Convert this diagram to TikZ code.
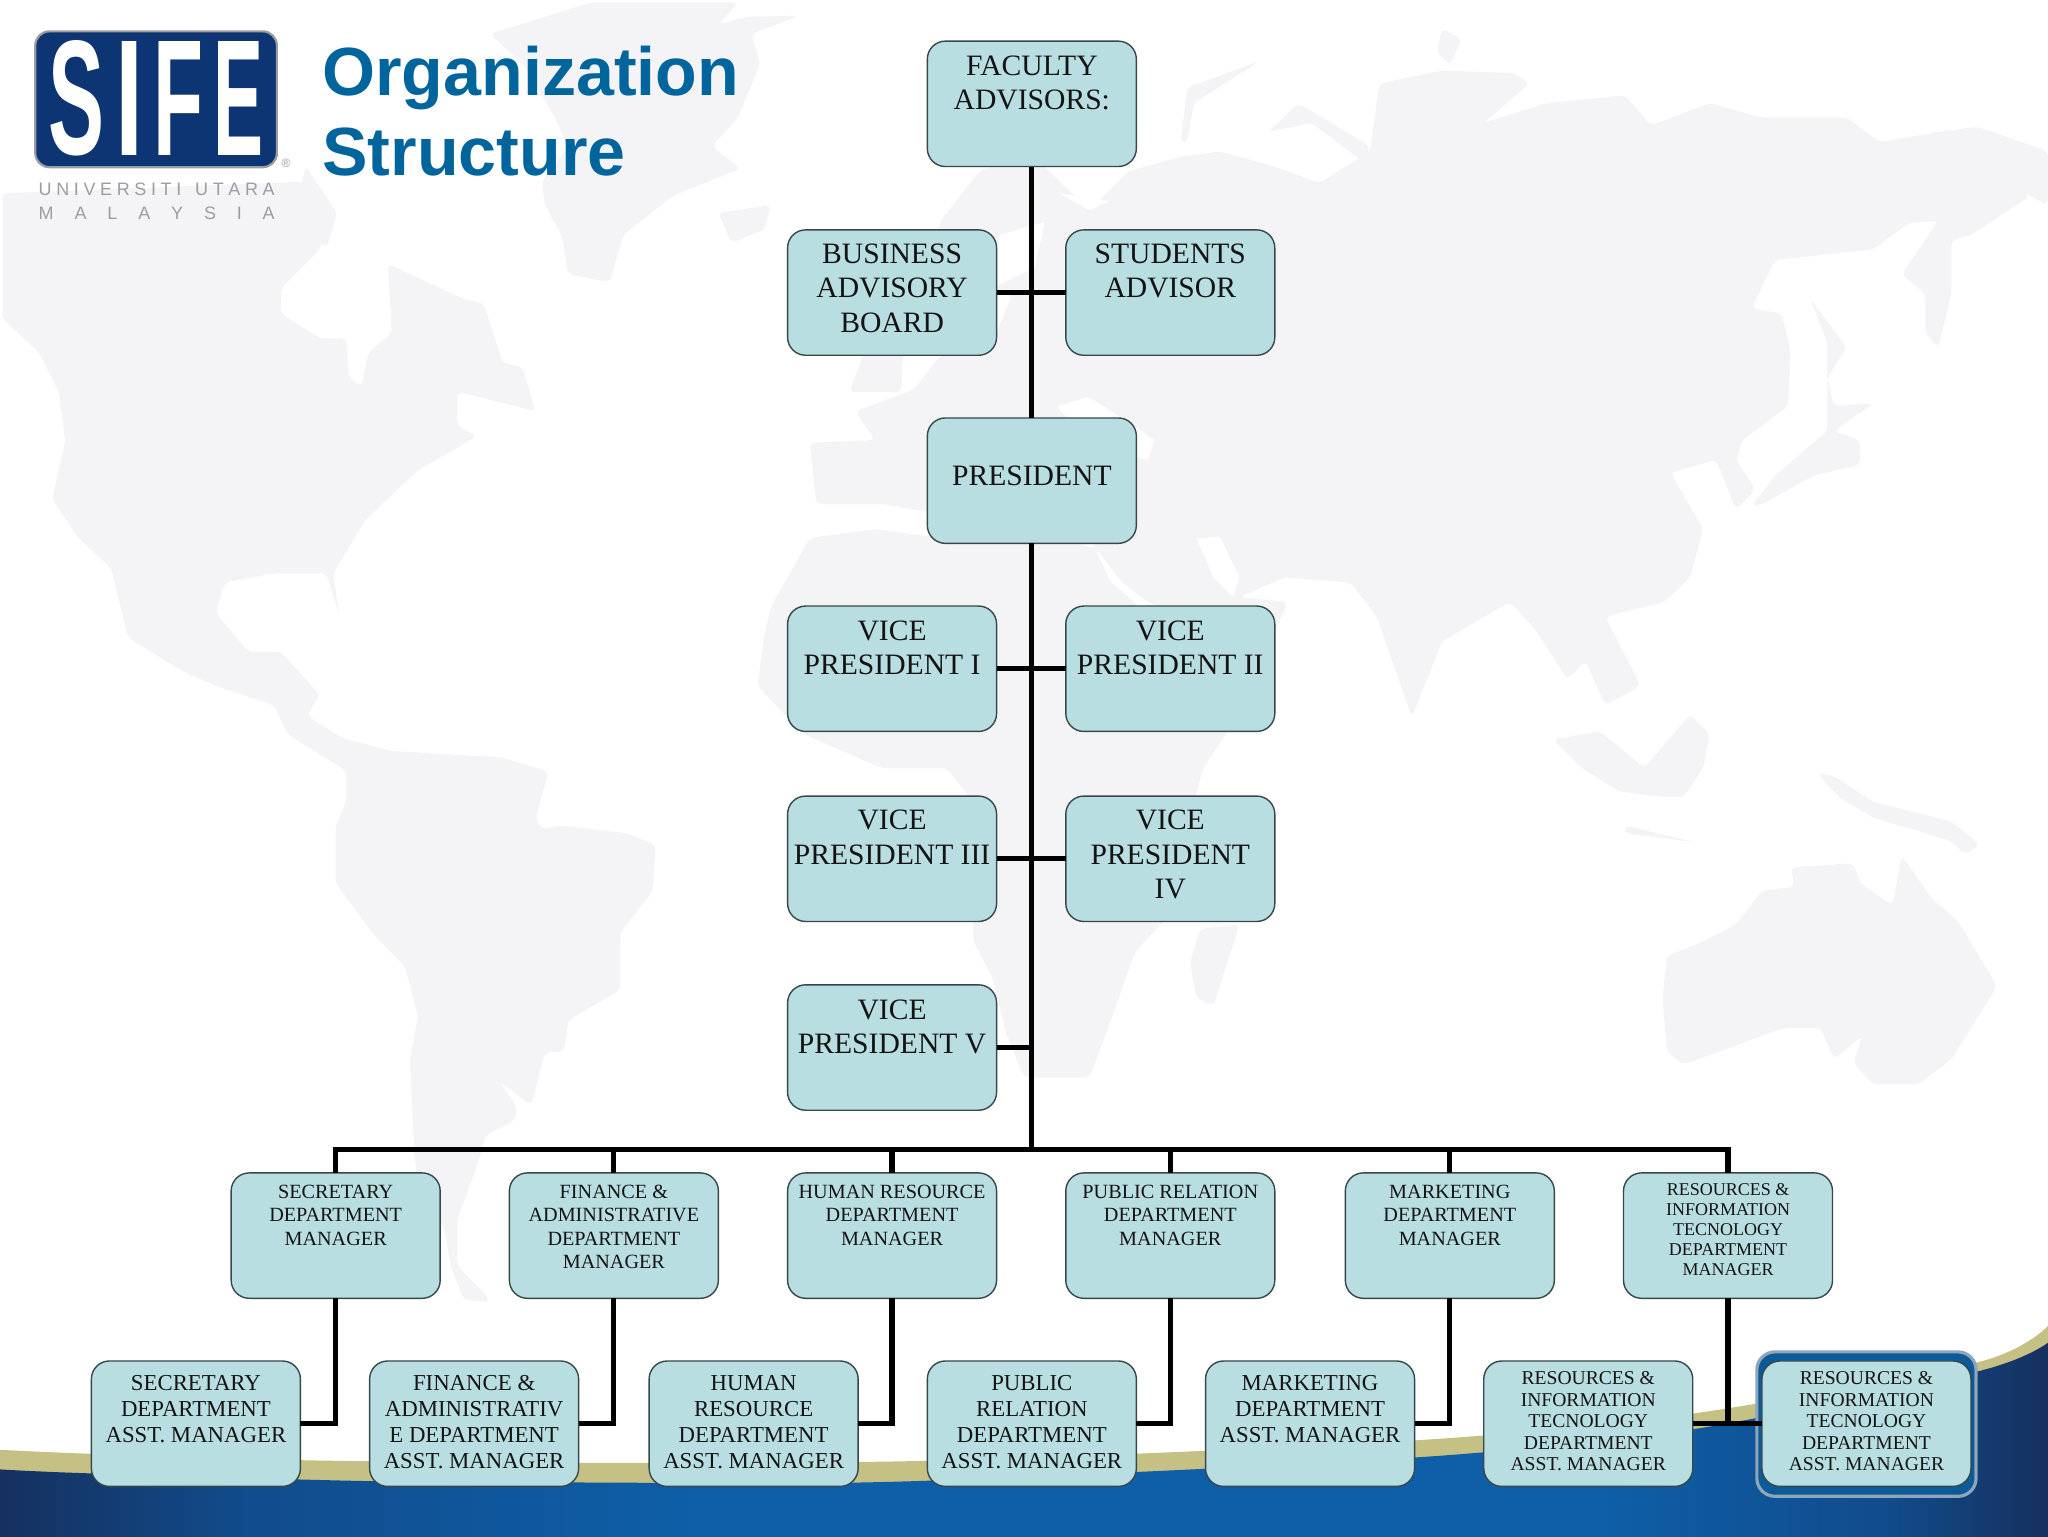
\documentclass[tikz,border=0pt]{standalone}
\usepackage{fontspec}
\usepackage{graphicx}
\setmainfont{Liberation Serif}
\newfontfamily\sansf{Liberation Sans}
\definecolor{mapc}{HTML}{F4F4F6}
\definecolor{boxc}{HTML}{B9DEE2}
\definecolor{boxl}{HTML}{37474A}
\definecolor{goldc}{HTML}{C5C084}
\definecolor{navyc}{HTML}{16305F}
\definecolor{midc}{HTML}{114C8C}
\definecolor{bluec}{HTML}{0E5FA8}
\definecolor{logoc}{HTML}{0D3574}
\definecolor{titlec}{HTML}{00659C}
\definecolor{greyt}{HTML}{9A9EA3}
\definecolor{framef}{HTML}{0B5A99}
\definecolor{framel}{HTML}{8FA5B8}
\pgfdeclarehorizontalshading{bandshade}{100bp}{color(0bp)=(navyc); color(25bp)=(navyc); color(31bp)=(midc); color(42bp)=(bluec); color(64bp)=(bluec); color(71bp)=(midc); color(75bp)=(navyc); color(100bp)=(navyc)}
\newcommand\bt[4]{\parbox[c][62.7pt][t]{104.5pt}{\centering\fontsize{#1}{#2}\selectfont\vspace*{#3}#4\par}}
\newcommand\topt[2]{\bt{14.8pt}{17.2pt}{#1}{#2}}
\newcommand\mgrt[1]{\bt{10.1pt}{11.75pt}{5.9pt}{#1}}
\newcommand\mgrf[1]{\bt{9pt}{10pt}{5.4pt}{#1}}
\newcommand\asst[1]{\bt{11.4pt}{13pt}{7pt}{#1}}
\newcommand\assf[1]{\bt{9.8pt}{10.8pt}{5.2pt}{#1}}
\newcommand\lgl[1]{\sansf\bfseries #1}
\tikzset{
  orgbox/.style={draw=boxl,line width=.7pt,fill=boxc,rounded corners=9pt,inner sep=0pt,outer sep=0pt,text=black!92},
  link/.style={draw=black,line width=2.6pt},
  land/.style={fill=mapc,rounded corners=2.5pt},
  sea/.style={fill=white,rounded corners=1pt},
  logoletter/.style={text=white,inner sep=0pt},
}
\begin{document}
\begin{tikzpicture}[x=0.65306pt,y=-0.65306pt]
\path[use as bounding box,fill=white] (0,0) rectangle (1568,1176);
% world map
% North and South America
\fill[land] (2,148)--(235,139)--(250,170)--(245,191)--(215,221)--(215,240)--(245,259)--(265,259)--(267,289)--(277,296)--(282,270)--(300,255)--(297,202)--(355,229)--(370,232)--(385,278)--(400,281)--(410,315)--(350,300)--(350,326)--(365,334)--(320,360)--(280,398)--(255,439)--(260,472)--(250,439)--(210,439)--(172,446)--(165,469)--(190,499)--(215,499)--(245,532)--(235,548)--(262,565)--(300,575)--(385,580)--(420,591)--(410,626)--(415,635)--(430,632)--(480,638)--(502,647)--(500,682)--(475,714)--(475,758)--(435,781)--(432,805)--(417,806)--(407,846)--(382,828)--(395,846)--(395,857)--(372,869)--(367,887)--(350,934)--(350,969)--(370,989)--(375,997)--(355,995)--(345,969)--(340,940)--(320,910)--(317,881)--(314,811)--(320,778)--(310,740)--(285,714)--(257,676)--(257,632)--(265,614)--(265,590)--(220,562)--(210,540)--(165,525)--(140,514)--(98,488)--(85,435)--(60,412)--(40,382)--(50,338)--(45,300)--(30,270)--(2,244)--cycle;
\fill[sea] (270,462)--(286,440)--(320,405)--(352,386)--(340,402)--(300,425)--cycle;
% Arctic islands
\fill[land] (234,127)--(258,163)--(250,190)--(225,170)--cycle;
% Greenland and Iceland
\fill[land] (375,26)--(452,2)--(565,2)--(550,19)--(570,13)--(612,12)--(575,26)--(582,49)--(565,90)--(545,112)--(567,129)--(515,150)--(477,180)--(467,216)--(435,210)--(430,180)--(417,157)--(415,139)--(435,112)--(425,90)--(400,49)--cycle;
\fill[land] (550,163)--(590,157)--(585,176)--(560,186)--cycle;
% UK
\fill[land] (650,300)--(665,262)--(692,255)--(690,300)--cycle;
% Eurasia
\fill[land] (620,339)--(670,337)--(655,315)--(700,298)--(720,272)--(760,262)--(775,225)--(735,225)--(705,235)--(720,169)--(750,131)--(790,118)--(834,161)--(864,131)--(904,120)--(934,116)--(974,127)--(1010,140)--(1049,116)--(1056,64)--(1104,54)--(1159,56)--(1171,64)--(1136,94)--(1184,79)--(1244,73)--(1264,96)--(1309,79)--(1349,90)--(1414,90)--(1439,109)--(1484,101)--(1514,97)--(1568,116)--(1568,157)--(1539,142)--(1554,150)--(1509,180)--(1494,184)--(1494,225)--(1484,266)--(1474,255)--(1474,225)--(1456,210)--(1484,169)--(1461,171)--(1434,191)--(1359,199)--(1341,236)--(1364,240)--(1371,270)--(1369,311)--(1334,337)--(1329,352)--(1344,375)--(1329,390)--(1314,352)--(1279,362)--(1304,405)--(1294,442)--(1274,461)--(1229,472)--(1256,525)--(1229,540)--(1214,506)--(1200,520)--(1174,480)--(1156,461)--(1104,491)--(1081,549)--(1054,472)--(1034,446)--(984,442)--(949,457)--(986,461)--(974,488)--(940,560)--(921,588)--(891,705)--(869,729)--(844,799)--(834,825)--(790,825)--(784,825)--(770,790)--(760,749)--(745,720)--(745,614)--(725,588)--(675,588)--(615,562)--(580,525)--(585,488)--(590,465)--(620,412)--(670,405)--(720,412)--(780,405)--(839,420)--(830,395)--(780,390)--(730,395)--(676,386)--(625,386)--cycle;
\fill[sea] (839,420)--(859,446)--(879,461)--(912,476)--(905,480)--(872,464)--(850,445)--cycle;
\fill[sea] (916,412)--(934,411)--(949,442)--(944,457)--(929,442)--cycle;
\fill[sea] (809,311)--(834,304)--(884,337)--(879,352)--(840,345)--cycle;
\fill[sea] (811,148)--(849,154)--(834,161)--cycle;
\fill[sea] (765,180)--(800,170)--(792,205)--(760,220)--cycle;
% Arctic Eurasia
\fill[land] (904,109)--(909,67)--(964,47)--(914,79)--(909,109)--cycle;
\fill[land] (971,101)--(994,79)--(1049,112)--(1044,124)--(1004,94)--cycle;
\fill[land] (1104,22)--(1119,30)--(1110,50)--(1100,40)--cycle;
% Japan
\fill[land] (1386,229)--(1414,266)--(1399,289)--(1404,311)--(1434,309)--(1404,330)--(1424,337)--(1424,356)--(1389,364)--(1349,386)--(1341,388)--(1359,364)--(1399,330)--(1399,262)--cycle;
% South East Asia
\fill[land] (1189,566)--(1211,588)--(1240,606)--(1271,610)--(1289,610)--(1304,588)--(1309,562)--(1294,547)--(1259,588)--(1225,560)--cycle;
\fill[land] (1244,632)--(1299,645)--(1244,638)--cycle;
\fill[land] (1391,592)--(1404,594)--(1434,614)--(1494,629)--(1516,647)--(1504,654)--(1494,644)--(1434,626)--(1409,611)--cycle;
% Madagascar
\fill[land] (919,711)--(949,708)--(929,770)--(916,764)--(911,737)--cycle;
% Australia
\fill[land] (1276,732)--(1299,723)--(1329,708)--(1349,682)--(1374,679)--(1371,664)--(1419,661)--(1424,676)--(1449,693)--(1456,655)--(1479,688)--(1499,705)--(1529,755)--(1494,811)--(1469,830)--(1434,830)--(1419,814)--(1426,793)--(1404,811)--(1394,787)--(1366,787)--(1289,815)--(1276,805)--(1273,764)--cycle;
% bottom band
\fill[goldc] plot[smooth] coordinates {(0,1110) (68,1113) (233,1118) (445,1120) (680,1119) (870,1113) (1110,1101) (1298,1082) (1514,1043) (1568,1015)} -- (1568,1180) -- (0,1180) -- cycle;
\shade[shading=bandshade] plot[smooth] coordinates {(0,1125) (68,1128) (284,1134) (441,1135) (660,1135) (870,1127) (1110,1114) (1298,1094) (1514,1050) (1568,1028)} -- (1568,1180) -- (0,1180) -- cycle;
% logo
\node[draw=greyt,line width=1.1pt,fill=logoc,rounded corners=7pt,minimum width=120.8pt,minimum height=67.9pt,inner sep=0pt] (logobox) at (119.5,76) {};
\node[logoletter] (logos) at (58.5,75.5) {\resizebox{28pt}{57pt}{\lgl{S}}};
\node[logoletter] (logoi) at (99.5,75.5) {\resizebox{14pt}{57pt}{\lgl{I}}};
\node[logoletter] (logof) at (137,75.5) {\resizebox{25pt}{57pt}{\lgl{F}}};
\node[logoletter] (logoe) at (182.5,75.5) {\resizebox{25pt}{57pt}{\lgl{E}}};
\node[text=greyt,inner sep=0pt] (reg) at (219,125) {\sansf\fontsize{6pt}{7pt}\selectfont ®};
\node[text=greyt,inner sep=0pt,anchor=base] (uni) at (120,150) {\sansf\fontsize{9pt}{10pt}\selectfont\makebox[118pt][s]{U\hfill N\hfill I\hfill V\hfill E\hfill R\hfill S\hfill I\hfill T\hfill I\hfill\hfill\hfill U\hfill T\hfill A\hfill R\hfill A}};
\node[text=greyt,inner sep=0pt,anchor=base] (mal) at (120,168) {\sansf\fontsize{9pt}{10pt}\selectfont\makebox[118pt][s]{M\hfill A\hfill L\hfill A\hfill Y\hfill S\hfill I\hfill A}};
% title
\node[text=titlec,inner sep=0pt,anchor=base west] (title1) at (246.5,73) {\sansf\bfseries\fontsize{34.1pt}{40pt}\selectfont Organization};
\node[text=titlec,inner sep=0pt,anchor=base west] (title2) at (246.5,134) {\sansf\bfseries\fontsize{34.1pt}{40pt}\selectfont Structure};
% selected frame
\node[draw=framel,line width=1.6pt,fill=framef,rounded corners=9pt,minimum width=109.6pt,minimum height=72.2pt,inner sep=0pt] (frame) at (1429,1090.3) {};
% boxes
\node[orgbox] (fac) at (790,79.5) {\topt{7.4pt}{FACULTY\\ADVISORS:}};
\node[orgbox] (bus) at (683,224) {\topt{7pt}{BUSINESS\\ADVISORY\\BOARD}};
\node[orgbox] (stu) at (896,224) {\topt{7pt}{STUDENTS\\ADVISOR}};
\node[orgbox] (pres) at (790,368) {\topt{23.8pt}{PRESIDENT}};
\node[orgbox] (vpa) at (683,512) {\topt{7.4pt}{VICE\\PRESIDENT I}};
\node[orgbox] (vpb) at (896,512) {\topt{7.4pt}{VICE\\PRESIDENT II}};
\node[orgbox] (vpc) at (683,657.5) {\topt{7pt}{VICE\\PRESIDENT III}};
\node[orgbox] (vpd) at (896,657.5) {\topt{7pt}{VICE\\PRESIDENT\\IV}};
\node[orgbox] (vpe) at (683,802) {\topt{7.4pt}{VICE\\PRESIDENT V}};
\node[orgbox] (ma) at (257,946) {\mgrt{SECRETARY\\DEPARTMENT\\MANAGER}};
\node[orgbox] (mb) at (470,946) {\mgrt{FINANCE \&\\ADMINISTRATIVE\\DEPARTMENT\\MANAGER}};
\node[orgbox] (mc) at (683,946) {\mgrt{HUMAN RESOURCE\\DEPARTMENT\\MANAGER}};
\node[orgbox] (md) at (896,946) {\mgrt{PUBLIC RELATION\\DEPARTMENT\\MANAGER}};
\node[orgbox] (me) at (1110,946) {\mgrt{MARKETING\\DEPARTMENT\\MANAGER}};
\node[orgbox] (mf) at (1323,946) {\mgrf{RESOURCES \&\\INFORMATION\\TECNOLOGY\\DEPARTMENT\\MANAGER}};
\node[orgbox] (aa) at (150,1090) {\asst{SECRETARY\\DEPARTMENT\\ASST. MANAGER}};
\node[orgbox] (ab) at (363,1090) {\asst{FINANCE \&\\ADMINISTRATIV\\E DEPARTMENT\\ASST. MANAGER}};
\node[orgbox] (ac) at (577,1090) {\asst{HUMAN\\RESOURCE\\DEPARTMENT\\ASST. MANAGER}};
\node[orgbox] (ad) at (790,1090) {\asst{PUBLIC\\RELATION\\DEPARTMENT\\ASST. MANAGER}};
\node[orgbox] (ae) at (1003,1090) {\asst{MARKETING\\DEPARTMENT\\ASST. MANAGER}};
\node[orgbox] (af) at (1216,1090) {\assf{RESOURCES \&\\INFORMATION\\TECNOLOGY\\DEPARTMENT\\ASST. MANAGER}};
\node[orgbox] (ag) at (1429,1090) {\assf{RESOURCES \&\\INFORMATION\\TECNOLOGY\\DEPARTMENT\\ASST. MANAGER}};
% connectors
\coordinate (busc) at (790,880);
\draw[link] (fac.south) -- (pres.north);
\draw[link] (pres.south) -- (busc);
\draw[link] (bus.east) -- (stu.west);
\draw[link] (vpa.east) -- (vpb.west);
\draw[link] (vpc.east) -- (vpd.west);
\draw[link] (vpe.east) -| (busc);
\draw[link] (ma.north) |- (busc);
\draw[link] (mb.north) |- (busc);
\draw[link] (mc.north) |- (busc);
\draw[link] (md.north) |- (busc);
\draw[link] (me.north) |- (busc);
\draw[link] (mf.north) |- (busc);
\draw[link] (ma.south) |- (aa.east);
\draw[link] (mb.south) |- (ab.east);
\draw[link] (mc.south) |- (ac.east);
\draw[link] (md.south) |- (ad.east);
\draw[link] (me.south) |- (ae.east);
\draw[link] (mf.south) |- (af.east);
\draw[link] (af.east) -- (ag.west);
\end{tikzpicture}
\end{document}
